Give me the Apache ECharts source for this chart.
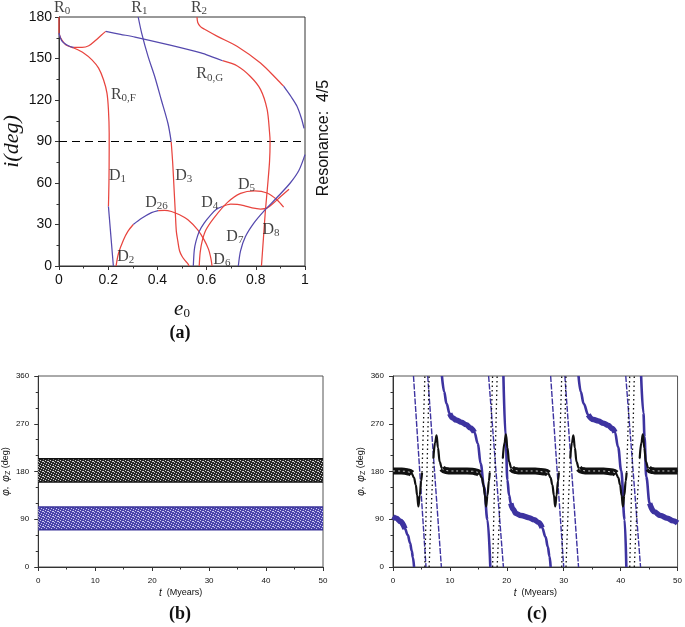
<!DOCTYPE html>
<html><head><meta charset="utf-8">
<script src="https://cdn.jsdelivr.net/npm/echarts@6/dist/echarts.min.js"></script>
<style>html,body{margin:0;padding:0;background:#fff}#c{width:685px;height:627px}</style>
</head><body><div id="c"></div>
<script>
// ================= Panel (a): resonance families, [e0, i(deg)] =================
const aXRange = [0, 1, 0.2];      // min, max, interval
const aYRange = [0, 180, 30];
const r0Red   = [[0,180],[0,168.4]];
const r0fRed  = [[0,168.4],[0.007,164.8],[0.027,160],[0.06,157.6],[0.1,154],[0.134,149],[0.161,143],[0.181,134.6],[0.195,125],[0.201,113],[0.204,96],[0.204,84],[0.203,60],[0.201,43]];
const d1Blue  = [[0.201,43],[0.207,30],[0.214,15],[0.221,0]];
const r0gBlueA= [[0,168.4],[0.013,162.4],[0.04,159],[0.06,158]];
const r0gRedA = [[0.06,158],[0.094,158],[0.121,159.2],[0.148,163],[0.174,167.2],[0.19,169.6]];
const r0gBlueB= [[0.19,169.6],[0.25,167.5],[0.309,165.5],[0.443,160],[0.577,154],[0.625,151],[0.665,148.4]];
const r0gRedB = [[0.665,148.4],[0.725,144.6],[0.778,137],[0.819,127.7],[0.846,113.2],[0.856,96.3],[0.858,90],[0.856,76],[0.848,58],[0.839,40],[0.831,20],[0.823,0]];
const r1Blue  = [[0.322,180],[0.336,168.4],[0.362,151.5],[0.389,137],[0.416,120],[0.443,103],[0.456,90]];
const d3Red   = [[0.456,90],[0.462,75],[0.468,55],[0.473,38],[0.477,25],[0.483,18],[0.49,11],[0.5,7],[0.512,4],[0.522,2],[0.529,0]];
const d26RedA = [[0.232,0],[0.242,9.2],[0.262,18.8],[0.28,25],[0.302,30]];
const d26Blue = [[0.302,30],[0.336,34.5],[0.376,38.6],[0.403,40.1]];
const d26RedB = [[0.403,40.1],[0.43,40.3],[0.457,39.4],[0.49,37],[0.524,33.4],[0.564,26.1],[0.59,18.9],[0.608,12],[0.618,5],[0.622,0]];
const d4Blue  = [[0.546,0],[0.55,11.6],[0.557,18],[0.57,25],[0.59,31],[0.617,37],[0.64,41],[0.664,43]];
const d4Red   = [[0.664,43],[0.698,44.8],[0.725,44.5],[0.752,43.6],[0.785,42],[0.819,41.2],[0.845,41.8],[0.872,45.5],[0.9,50],[0.935,55.5]];
const d5Red   = [[0.57,0],[0.574,10],[0.582,18],[0.597,26],[0.631,35],[0.685,46],[0.738,52.5],[0.795,54.3],[0.846,52.8],[0.886,47.9],[0.913,42.5]];
const d7Blue  = [[0.729,0],[0.738,11],[0.758,21.3],[0.792,31],[0.832,39.5],[0.886,49.5],[0.94,60],[0.975,69],[1.0,80.5]];
const r2Red   = [[0.561,180],[0.564,176],[0.575,173],[0.59,171.3],[0.644,166],[0.725,158.7],[0.819,146.7],[0.886,135],[0.913,130]];
const r2Blue  = [[0.913,130],[0.945,122],[0.967,115.6],[0.985,107],[0.996,99.5]];
const ref90   = [[0,90],[1,90]];
// curve names (annotation anchor in data coords)
const aLabelText = [['R','0'],['R','1'],['R','2'],['R','0,F'],['R','0,G'],['D','1'],['D','3'],['D','26'],['D','2'],['D','4'],['D','5'],['D','7'],['D','8'],['D','6']];
const aLabelAt   = [[0.013,187],[0.327,187],[0.569,187],[0.262,124],[0.613,138.6],[0.238,65.3],[0.507,65.3],[0.396,45.5],[0.271,6.8],[0.613,45.7],[0.762,58.8],[0.715,21.3],[0.862,26.1],[0.662,4.4]];

// ================= Panel (b): libration bands =================
const tRange = [0, 50, 10];
const phiRange = [0, 360, 90];
const tBand = [0, 10, 20, 30, 40, 50];
const phiBandLow  = [160,160,160,160,160,160];
const phiBandHigh = [204,204,204,204,204,204];
const phiZBandLow = [70,70,70,70,70,70];
const phiZBandHigh= [113,113,113,113,113,113];

// ================= Panel (c): circulating case =================
const phiSlow = [
  [[0,181],[1,181],[2,180.5],[2.8,179],[3.3,176],[3.7,168],[4.0,155],[4.25,135],[4.46,114],[4.7,135],[4.95,162],[5.1,178]],
  [[7.1,205],[7.4,235],[7.66,248],[7.9,225],[8.2,198],[8.6,186],[9.2,182],[10,181],[12,181],[14,180.5],[14.7,179],[15.2,176],[15.6,168],[15.9,155],[16.15,135],[16.36,114],[16.6,135],[16.85,162],[17.0,178]],
  [[19.3,205],[19.6,235],[19.84,250],[20.1,225],[20.4,198],[20.8,186],[21.4,182],[22,181],[25,181],[26.8,179],[27.3,176],[27.7,168],[28.0,155],[28.28,135],[28.5,114],[28.74,135],[28.99,162],[29.15,178]],
  [[31.15,205],[31.45,235],[31.7,248],[31.95,225],[32.25,198],[32.65,186],[33.2,182],[34,181],[37,181],[38.7,179],[39.2,176],[39.6,168],[39.9,155],[40.17,135],[40.4,114],[40.64,135],[40.89,162],[41.05,178]],
  [[43.35,205],[43.65,235],[43.9,250],[44.15,225],[44.45,198],[44.85,186],[45.4,182],[46,181],[48,181],[50,181]]
];
const phiBand = [
  [[0,181],[1,181],[2,180.5],[2.8,179],[3.3,176]],
  [[8.6,186],[9.2,182],[10,181],[12,181],[14,180.5],[14.7,179],[15.2,176]],
  [[20.8,186],[21.4,182],[22,181],[25,181],[26.8,179],[27.3,176]],
  [[32.65,186],[33.2,182],[34,181],[37,181],[38.7,179],[39.2,176]],
  [[44.85,186],[45.4,182],[46,181],[48,181],[50,181]]
];
const phiFast = [
  [[5.1,178],[5.6,360]], [[5.6,0],[6.35,360]], [[6.35,0],[6.8,130],[7.1,205]],
  [[17.0,178],[17.5,360]], [[17.5,0],[18.3,360]], [[18.3,0],[18.9,140],[19.3,205]],
  [[29.15,178],[29.65,360]], [[29.65,0],[30.4,360]], [[30.4,0],[30.85,130],[31.15,205]],
  [[41.05,178],[41.6,360]], [[41.6,0],[42.4,360]], [[42.4,0],[43.0,140],[43.35,205]]
];
const phiZSlow = [
  [[0,95],[0.6,92],[1.3,86],[2.1,72],[2.6,60],[3.0,45],[3.3,30],[3.5,18],[3.7,0]],
  [[8.6,360],[9.0,330],[9.4,308],[9.97,289],[10.5,281],[11.1,277],[12,273],[12.9,268],[13.6,262],[14.3,254],[14.9,233],[15.4,195],[16.0,151],[16.6,89],[17.1,0]],
  [[19.4,360],[19.8,245],[20.1,164],[20.4,135],[20.7,120],[21.1,109],[21.6,101],[22.5,97],[23.9,93],[24.8,89],[25.6,84],[26.2,74],[26.8,57],[27.2,38],[27.5,20],[27.7,0]],
  [[32.6,360],[33.0,330],[33.5,308],[34.3,287],[35.2,278],[36.1,275],[37,271],[37.8,267],[38.5,261],[39.0,254],[39.55,226],[40.1,182],[40.7,89],[41.0,0]],
  [[43.6,360],[44.0,290],[44.2,245],[44.5,170],[45.1,120],[45.9,104],[47,97],[48.2,92],[49.2,87],[50,83]]
];
const phiZPlateau = [
  [[0,95],[0.6,92],[1.3,86],[2.1,72]],
  [[9.97,289],[10.5,281],[11.1,277],[12,273],[12.9,268],[13.6,262],[14.3,254]],
  [[20.7,120],[21.1,109],[21.6,101],[22.5,97],[23.9,93],[24.8,89],[25.6,84],[26.2,74]],
  [[34.3,287],[35.2,278],[36.1,275],[37,271],[37.8,267],[38.5,261],[39.0,254]],
  [[45.1,120],[45.9,104],[47,97],[48.2,92],[49.2,87],[50,83]]
];
const phiZFast = [
  [[3.6,360],[5.8,0]], [[6.1,360],[8.5,0]], [[16.8,360],[19.4,0]],
  [[27.7,360],[30.0,0]], [[30.2,360],[32.6,0]], [[40.9,360],[43.5,0]]
];

// ================= styling =================
const RED = '#e8453f', BLUE = '#5549ae', CBLUE = '#3d33a0', BLACK = '#111';
const serif = 'Liberation Serif', sans = 'Liberation Sans';

function speckle(base, dot) {
  const c = document.createElement('canvas'); c.width = 5; c.height = 5;
  const g = c.getContext('2d'); g.fillStyle = base; g.fillRect(0,0,5,5);
  g.fillStyle = dot; [[0,0],[2,1],[4,2],[1,3],[3,4],[3,1]].forEach(p => g.fillRect(p[0],p[1],1,1));
  return c;
}
function ln(data, color, width, idx, extra) {
  return Object.assign({
    type: 'line', xAxisIndex: idx, yAxisIndex: idx, data: data, symbol: 'none', showSymbol: false,
    smooth: 0.3, silent: true, animation: false, clip: true,
    lineStyle: { color: color, width: width }
  }, extra || {});
}
const mono = { smooth: 0.4, smoothMonotone: 'x' };
const series = [];
// panel a
series.push(ln(ref90, '#000', 1.2, 0, { smooth: false, lineStyle: { color: '#000', width: 1.2, type: [8, 5] } }));
[r0fRed, r0gRedA, r0gRedB, d3Red, d26RedA, d26RedB, d4Red, d5Red, r2Red].forEach(d => series.push(ln(d, RED, 1.25, 0)));
[d1Blue, r0gBlueA, r0gBlueB, r1Blue, d26Blue, d4Blue, d7Blue, r2Blue].forEach(d => series.push(ln(d, BLUE, 1.25, 0)));
series.push(ln(r0Red, RED, 1.3, 0, { smooth: false, z: 5, clip: false }));
series.push({
  type: 'scatter', xAxisIndex: 0, yAxisIndex: 0, symbolSize: 1, clip: false, silent: true, animation: false, z: 6,
  itemStyle: { color: 'transparent' },
  data: aLabelAt.map((p, k) => ({ value: p, label: { formatter: '{m|' + aLabelText[k][0] + '}{s|' + aLabelText[k][1] + '}' } })),
  label: {
    show: true, position: 'inside',
    rich: {
      m: { fontFamily: serif, fontSize: 16, color: BLACK, lineHeight: 18, verticalAlign: 'middle' },
      s: { fontFamily: serif, fontSize: 11, color: BLACK, lineHeight: 9, verticalAlign: 'bottom' }
    }
  }
});
// panel b: bands drawn as polygons between low/high arrays (through axis scales)
function bandSeries(low, high, fill, edge) {
  return [
    {
      type: 'custom', xAxisIndex: 1, yAxisIndex: 1, silent: true, animation: false, clip: true,
      data: tBand.map((t, k) => [t, low[k], high[k]]),
      renderItem: function (params, api) {
        if (params.dataIndex !== 0) return null;
        const pts = [];
        tBand.forEach((t, k) => pts.push(api.coord([t, high[k]])));
        for (let k = tBand.length - 1; k >= 0; k--) pts.push(api.coord([tBand[k], low[k]]));
        return { type: 'polygon', shape: { points: pts }, style: { fill: { image: fill, repeat: 'repeat' }, stroke: null } };
      }
    },
    ln(tBand.map((t, k) => [t, low[k]]), edge, 1.5, 1, { smooth: false, z: 3 }),
    ln(tBand.map((t, k) => [t, high[k]]), edge, 1.5, 1, { smooth: false, z: 3 })
  ];
}
series.push(...bandSeries(phiBandLow, phiBandHigh, speckle('#2a2a2a', '#d4d4d4'), '#111'));
series.push(...bandSeries(phiZBandLow, phiZBandHigh, speckle('#4b45ab', '#cdcaf0'), '#3a3399'));
// panel c
phiZFast.forEach(d => series.push(ln(d, CBLUE, 1.3, 2, { smooth: false, lineStyle: { color: CBLUE, width: 1.4, type: [6, 1.5] } })));
phiZSlow.forEach(d => series.push(ln(d, CBLUE, 2.6, 2, mono)));
phiZPlateau.forEach(d => series.push(ln(d, CBLUE, 5.5, 2, mono)));
phiFast.forEach(d => series.push(ln(d, BLACK, 1.3, 2, { smooth: false, lineStyle: { color: BLACK, width: 1.3, type: [1.5, 3] } })));
phiSlow.forEach(d => series.push(ln(d, BLACK, 2.2, 2, mono)));
phiBand.forEach(d => series.push(ln(d, BLACK, 7, 2, mono)));
phiBand.forEach(d => series.push(ln(d, '#bbb', 1, 2, Object.assign({ lineStyle: { color: '#cfcfcf', width: 1, type: [2, 3] } }, mono))));

function axisBase(range, minorSplit, fontSize, margin) {
  return {
    type: 'value', min: range[0], max: range[1], interval: range[2],
    axisLine: { show: true, onZero: false, lineStyle: { color: '#333', width: 1 } },
    axisTick: { show: true, length: 4, lineStyle: { color: '#333' } },
    minorTick: { show: true, splitNumber: minorSplit, length: 2.5, lineStyle: { color: '#333' } },
    splitLine: { show: false },
    axisLabel: { color: BLACK, fontFamily: sans, fontSize: fontSize, margin: margin }
  };
}
const xA = axisBase(aXRange, 2, 14, 7);
Object.assign(xA, { name: '{i|e}{s|0}', nameLocation: 'middle', nameGap: 32,
  nameTextStyle: { rich: { i: { fontFamily: serif, fontStyle: 'italic', fontSize: 21, color: BLACK, lineHeight: 22, verticalAlign: 'middle' },
                            s: { fontFamily: serif, fontSize: 13, color: BLACK, lineHeight: 12, verticalAlign: 'bottom' } } } });
const yA = axisBase(aYRange, 2, 14, 7);
Object.assign(yA, { name: 'i(deg)', nameLocation: 'middle', nameGap: 36,
  nameTextStyle: { fontFamily: serif, fontStyle: 'italic', fontSize: 22, color: BLACK } });
function tAxis() {
  const x = axisBase(tRange, 2, 8, 10);
  return Object.assign(x, { name: '{i|t}  (Myears)', nameLocation: 'middle', nameGap: 21,
    nameTextStyle: { fontFamily: sans, fontSize: 9, color: BLACK, rich: { i: { fontFamily: sans, fontStyle: 'italic', fontSize: 10, color: BLACK } } } });
}
function phiAxis() {
  const y = axisBase(phiRange, 3, 8, 9);
  return Object.assign(y, { name: '{i|φ},  {i|φ}{s|Z} (deg)', nameLocation: 'middle', nameGap: 25,
    nameTextStyle: { fontFamily: sans, fontSize: 9, color: BLACK, rich: {
      i: { fontFamily: sans, fontStyle: 'italic', fontSize: 10, color: BLACK, lineHeight: 12, verticalAlign: 'middle' },
      s: { fontFamily: sans, fontSize: 7, color: BLACK, lineHeight: 7, verticalAlign: 'bottom' } } } });
}

const chart = echarts.init(document.getElementById('c'), null, { renderer: 'canvas' });
chart.setOption({
  backgroundColor: '#fff',
  animation: false,
  grid: [
    { left: 57, top: 17, width: 248, height: 249, show: true, borderColor: '#333', borderWidth: 1, backgroundColor: 'transparent' },
    { left: 36, top: 376, width: 287, height: 191, show: true, borderColor: '#555', borderWidth: 1, backgroundColor: 'transparent' },
    { left: 393, top: 376, width: 287, height: 191, show: true, borderColor: '#555', borderWidth: 1, backgroundColor: 'transparent' }
  ],
  xAxis: [Object.assign(xA, { gridIndex: 0 }), Object.assign(tAxis(), { gridIndex: 1 }), Object.assign(tAxis(), { gridIndex: 2 })],
  yAxis: [Object.assign(yA, { gridIndex: 0 }), Object.assign(phiAxis(), { gridIndex: 1 }), Object.assign(phiAxis(), { gridIndex: 2 })],
  series: series,
  graphic: [
    { type: 'text', x: 180, y: 333, style: { text: '(a)', font: 'bold 18px "Liberation Serif"', fill: BLACK, textAlign: 'center', textVerticalAlign: 'middle' } },
    { type: 'text', x: 180, y: 614, style: { text: '(b)', font: 'bold 18px "Liberation Serif"', fill: BLACK, textAlign: 'center', textVerticalAlign: 'middle' } },
    { type: 'text', x: 537, y: 614, style: { text: '(c)', font: 'bold 18px "Liberation Serif"', fill: BLACK, textAlign: 'center', textVerticalAlign: 'middle' } },
    { type: 'text', x: 324, y: 138, rotation: Math.PI / 2, style: { text: 'Resonance:  4/5', font: '16px "Liberation Sans"', fill: BLACK, textAlign: 'center', textVerticalAlign: 'middle' } }
  ]
});
</script></body></html>
